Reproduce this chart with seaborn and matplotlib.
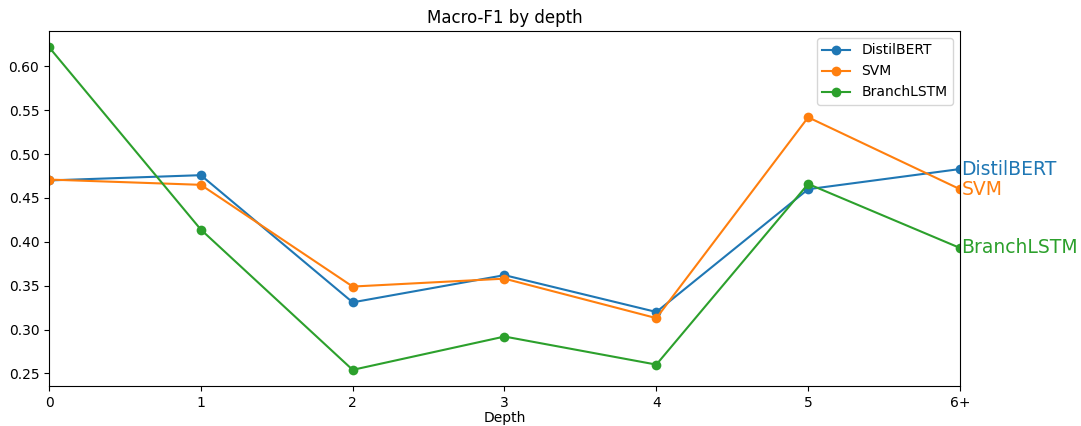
import matplotlib
matplotlib.use('Agg')
import matplotlib.pyplot as plt
import seaborn as sns
import pandas as pd

depth_labels = ['0', '1', '2', '3', '4', '5', '6+']
models = ['DistilBERT', 'SVM', 'BranchLSTM']
distilbert = [0.470, 0.476, 0.331, 0.362, 0.320, 0.460, 0.483]
svm = [0.471, 0.465, 0.349, 0.358, 0.313, 0.542, 0.460]
branchlstm = [0.622, 0.414, 0.254, 0.292, 0.260, 0.466, 0.393]

scores = {'DistilBERT': distilbert, 'SVM': svm, 'BranchLSTM': branchlstm}
rows = []
for m in models:
    for i, v in enumerate(scores[m]):
        rows.append({'depth': i, 'model': m, 'f1': v})
df = pd.DataFrame(rows)

colors = sns.color_palette('tab10', 3)

fig, ax = plt.subplots(figsize=(10.81, 4.26), dpi=100)
fig.subplots_adjust(left=49/1081, right=960/1081, top=1-31/426, bottom=1-386/426)

sns.lineplot(data=df, x='depth', y='f1', hue='model', hue_order=models,
             palette=colors, marker='o', markersize=7, markeredgewidth=0,
             linewidth=1.5, ax=ax)

# label each line at its last point
for m, c in zip(models, colors):
    ax.text(6.01, scores[m][-1], m, color=c, fontsize=13.5, va='center', ha='left')

ax.set_xlim(0, 6)
ax.set_xticks(range(len(depth_labels)))
ax.set_xticklabels(depth_labels)
ax.set_title('Macro-F1 by depth')
ax.set_xlabel('Depth', labelpad=1)
ax.set_ylabel('')
sns.move_legend(ax, 'upper right', title=None)

plt.savefig('out.png', dpi=100)
